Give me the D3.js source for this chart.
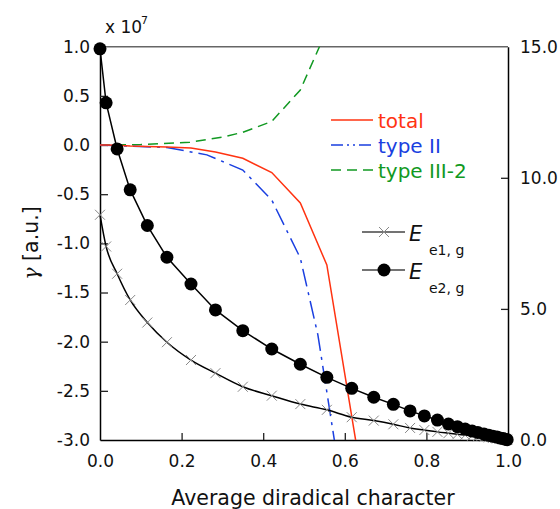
<!DOCTYPE html>
<html>
<head>
<meta charset="utf-8">
<script src="https://cdn.jsdelivr.net/npm/d3@7"></script>
<style>
  body { margin: 0; background: #fff; }
  svg { display: block; font-family: "DejaVu Sans", sans-serif; }
</style>
</head>
<body>
<div class="container"></div>
<script>
// diradical character where the E curves are sampled (markers)
var dE = [0, 0.015, 0.042, 0.074, 0.116, 0.164, 0.223, 0.283, 0.35, 0.421, 0.491, 0.556, 0.617, 0.671,
          0.719, 0.76, 0.795, 0.827, 0.854, 0.876, 0.895, 0.912, 0.926, 0.941, 0.953, 0.963, 0.973,
          0.98, 0.988, 0.993, 0.998];
var e1 = [8.59, 7.38, 6.34, 5.34, 4.48, 3.73, 3.05, 2.55, 2.03, 1.69, 1.37, 1.15, 0.87, 0.74,
          0.6, 0.46, 0.38, 0.31, 0.26, 0.22, 0.19, 0.16, 0.14, 0.12, 0.1, 0.08, 0.06,
          0.05, 0.03, 0.02, 0.01];
var e2 = [14.92, 12.86, 11.1, 9.54, 8.18, 6.97, 5.95, 4.96, 4.17, 3.47, 2.89, 2.39, 1.97, 1.63,
          1.36, 1.11, 0.92, 0.76, 0.61, 0.51, 0.42, 0.34, 0.29, 0.23, 0.18, 0.14, 0.11,
          0.076, 0.053, 0.031, 0.011];

// gamma (x 10^7) components
var dTotal = [0, 0.015, 0.042, 0.074, 0.116, 0.164, 0.223, 0.283, 0.35, 0.421, 0.491, 0.556, 0.64];
var gTotal = [0, 0, -0.003, -0.01, -0.015, -0.02, -0.03, -0.07, -0.135, -0.28, -0.59, -1.22, -3.34];

var dTypeII = [0, 0.098, 0.164, 0.262, 0.35, 0.421, 0.491, 0.534, 0.6];
var gTypeII = [0, -0.015, -0.025, -0.1, -0.255, -0.56, -1.15, -1.93, -3.68];

var dTypeIII = [0, 0.1, 0.22, 0.3, 0.35, 0.421, 0.491, 0.556];
var gTypeIII = [0, 0.005, 0.028, 0.08, 0.13, 0.24, 0.56, 1.17];

var xTicks = [0, 0.2, 0.4, 0.6, 0.8, 1.0];
var yTicks = [1.0, 0.5, 0.0, -0.5, -1.0, -1.5, -2.0, -2.5, -3.0];
var yRTicks = [0, 5, 10, 15];

var width = 560, height = 509;
var plotLeft = 100, plotRight = 508, plotTop = 46.7, plotBottom = 440;

var svg = d3.select('.container').append('svg').attr('width', width).attr('height', height);

var x = d3.scaleLinear().domain([0, 1]).range([plotLeft, plotRight]);
var y = d3.scaleLinear().domain([-3, 1]).range([plotBottom, plotTop]);
var yR = d3.scaleLinear().domain([0, 15]).range([plotBottom, plotTop]);

function fmt(d) { return d.toFixed(1); }

svg.append('clipPath').attr('id', 'plot')
   .append('rect').attr('x', plotLeft).attr('y', plotTop)
   .attr('width', plotRight - plotLeft).attr('height', plotBottom - plotTop);

// axes
var gx = svg.append('g').attr('transform', 'translate(0,' + plotBottom + ')')
   .call(d3.axisBottom(x).tickValues(xTicks).tickFormat(fmt).tickSize(-7).tickSizeOuter(0).tickPadding(15));
var gy = svg.append('g').attr('transform', 'translate(' + plotLeft + ',0)')
   .call(d3.axisLeft(y).tickValues(yTicks).tickFormat(fmt).tickSize(-8).tickSizeOuter(0).tickPadding(10));
var gr = svg.append('g').attr('transform', 'translate(' + plotRight + ',0)')
   .call(d3.axisRight(yR).tickValues(yRTicks).tickFormat(fmt).tickSize(-7).tickSizeOuter(0).tickPadding(12));

[gx, gy, gr].forEach(function (g) {
    g.selectAll('text').attr('font-size', 17).attr('fill', '#111').attr('font-family', '"DejaVu Sans", sans-serif');
    g.selectAll('line').attr('stroke', '#222').attr('stroke-width', 1.3);
    g.select('.domain').attr('stroke', '#000').attr('stroke-width', 1.5);
});
gx.selectAll('.tick').filter(function (d) { return d === 0 || d === 1; }).select('line').remove();
gr.selectAll('.tick').filter(function (d) { return d === 0 || d === 15; }).select('line').remove();
gy.selectAll('.tick').filter(function (d) { return d === 1 || d === -3; }).select('line').remove();

// top frame line (grey)
svg.append('line').attr('x1', plotLeft).attr('x2', plotRight).attr('y1', plotTop).attr('y2', plotTop)
   .attr('stroke', '#666').attr('stroke-width', 1.5);

// gamma lines
var lineG = d3.line().x(function (d) { return x(d[0]); }).y(function (d) { return y(d[1]); });
var plot = svg.append('g').attr('clip-path', 'url(#plot)');

function gammaLine(ds, gs, color, dash) {
    plot.append('path')
        .datum(d3.zip(ds, gs))
        .attr('d', lineG)
        .attr('fill', 'none')
        .attr('stroke', color)
        .attr('stroke-width', 1.5)
        .attr('stroke-dasharray', dash);
}
gammaLine(dTypeIII, gTypeIII, '#119922', '10,6');
gammaLine(dTypeII, gTypeII, '#1a3fe0', '18,6,3,6');
gammaLine(dTotal, gTotal, '#ff3311', null);

// E curves (right axis)
var lineE1 = d3.line().curve(d3.curveMonotoneX)
    .x(function (d) { return x(d[0]); }).y(function (d) { return yR(d[1]); });
var lineE2 = d3.line()
    .x(function (d) { return x(d[0]); }).y(function (d) { return yR(d[1]); });

var e1Data = d3.zip(dE, e1).concat([[1, 0]]);
var e2Data = d3.zip(dE, e2);

svg.append('path').datum(e1Data).attr('d', lineE1)
   .attr('fill', 'none').attr('stroke', '#000').attr('stroke-width', 1.5);

svg.selectAll('.cross')
   .data(d3.zip(dE, e1))
   .enter()
   .append('path')
   .attr('class', 'cross')
   .attr('transform', function (d) { return 'translate(' + x(d[0]) + ',' + yR(d[1]) + ')'; })
   .attr('d', 'M-5,-5L5,5M-5,5L5,-5')
   .attr('stroke', '#888').attr('stroke-width', 1).attr('fill', 'none');

svg.append('path').datum(e2Data).attr('d', lineE2)
   .attr('fill', 'none').attr('stroke', '#000').attr('stroke-width', 1.5);

svg.selectAll('.dot')
   .data(e2Data)
   .enter()
   .append('circle')
   .attr('class', 'dot')
   .attr('cx', function (d) { return x(d[0]); })
   .attr('cy', function (d) { return yR(d[1]); })
   .attr('r', 6.5)
   .attr('fill', '#000');

// labels
svg.append('text').attr('x', 105).attr('y', 33).attr('font-size', 17).attr('fill', '#111').text('x 10');
svg.append('text').attr('x', 141).attr('y', 24).attr('font-size', 11).attr('fill', '#111').text('7');

svg.append('text')
   .attr('x', 313).attr('y', 505)
   .attr('text-anchor', 'middle')
   .attr('font-size', 20.5)
   .attr('fill', '#111')
   .text('Average diradical character');

var yl = svg.append('text')
   .attr('transform', 'translate(38,243) rotate(-90)')
   .attr('text-anchor', 'middle')
   .attr('font-size', 20.5)
   .attr('fill', '#111');
yl.append('tspan').attr('font-family', '"DejaVu Serif", serif').attr('font-style', 'italic').text('γ');
yl.append('tspan').text(' [a.u.]');

// legend: gamma
var legG = [
    { name: 'total', color: '#ff3311', dash: null },
    { name: 'type II', color: '#1a3fe0', dash: '12,4,2,4,2,4' },
    { name: 'type III-2', color: '#119922', dash: '10,6' }
];
legG.forEach(function (l, i) {
    var ly = 120 + i * 25;
    svg.append('line').attr('x1', 331).attr('x2', 373).attr('y1', ly).attr('y2', ly)
       .attr('stroke', l.color).attr('stroke-width', 1.5).attr('stroke-dasharray', l.dash);
    svg.append('text').attr('x', 378).attr('y', ly + 8).attr('font-size', 20)
       .attr('fill', l.color).text(l.name);
});

// legend: E
var legE = [{ sub: 'e1, g', mark: 'cross' }, { sub: 'e2, g', mark: 'dot' }];
legE.forEach(function (l, i) {
    var ly = 232 + i * 38;
    svg.append('line').attr('x1', 362).attr('x2', 405).attr('y1', ly).attr('y2', ly)
       .attr('stroke', '#444').attr('stroke-width', 1.5);
    if (l.mark === 'cross') {
        svg.append('path').attr('transform', 'translate(384,' + ly + ')')
           .attr('d', 'M-5,-5L5,5M-5,5L5,-5').attr('stroke', '#888').attr('stroke-width', 1);
    } else {
        svg.append('circle').attr('cx', 384).attr('cy', ly).attr('r', 6.5).attr('fill', '#000');
    }
    svg.append('text').attr('x', 409).attr('y', ly + 9).attr('font-size', 21)
       .attr('font-style', 'italic').attr('fill', '#111').text('E');
    svg.append('text').attr('x', 429).attr('y', ly + 23).attr('font-size', 14)
       .attr('fill', '#111').text(l.sub);
});
</script>
</body>
</html>
